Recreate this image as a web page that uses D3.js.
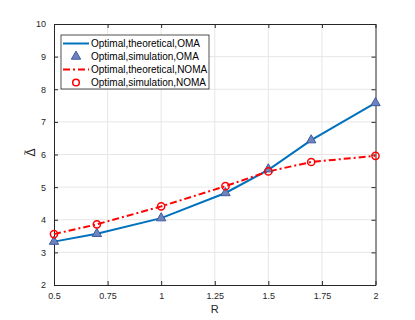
<!DOCTYPE html>
<html>
<head>
<meta charset="utf-8">
<script src="https://cdn.jsdelivr.net/npm/d3@7"></script>
<style>
  body { margin: 0; background: #fff; }
  svg { font-family: "Liberation Sans", Arial, sans-serif; }
</style>
</head>
<body>
<div id="chart"></div>
<script>
var rValues = [0.5, 0.7, 1, 1.3, 1.5, 1.7, 2];
var omaTheory = [3.33, 3.57, 4.05, 4.82, 5.53, 6.44, 7.58];
var omaSim = [3.33, 3.57, 4.05, 4.82, 5.55, 6.44, 7.58];
var nomaTheory = [3.56, 3.86, 4.41, 5.03, 5.48, 5.77, 5.96];
var nomaSim = [3.56, 3.86, 4.41, 5.03, 5.48, 5.77, 5.96];
var xTicks = [0.5, 0.75, 1, 1.25, 1.5, 1.75, 2];
var yTicks = [2, 3, 4, 5, 6, 7, 8, 9, 10];
var legendLabels = ["Optimal,theoretical,OMA", "Optimal,simulation,OMA",
    "Optimal,theoretical,NOMA", "Optimal,simulation,NOMA"];

var width = 415, height = 320;
var margin = {left: 54, right: 39.5, top: 24, bottom: 35};
var w = width - margin.left - margin.right;
var h = height - margin.top - margin.bottom;

var x = d3.scaleLinear().domain([0.5, 2]).range([0, w]);
var y = d3.scaleLinear().domain([2, 10]).range([h, 0]);

var svg = d3.select("#chart").append("svg")
    .attr("width", width)
    .attr("height", height)
    .append("g")
    .attr("transform", "translate(" + margin.left + "," + margin.top + ")");

// grid
svg.append("g").selectAll("line").data(xTicks.slice(1, -1)).enter().append("line")
    .attr("x1", function(d) { return x(d); }).attr("x2", function(d) { return x(d); })
    .attr("y1", 0).attr("y2", h)
    .attr("stroke", "#e6e6e6").attr("stroke-width", 1);
svg.append("g").selectAll("line").data(yTicks.slice(1, -1)).enter().append("line")
    .attr("y1", function(d) { return y(d); }).attr("y2", function(d) { return y(d); })
    .attr("x1", 0).attr("x2", w)
    .attr("stroke", "#e6e6e6").attr("stroke-width", 1);

function styleAxis(g) {
    g.select(".domain").attr("stroke", "#262626");
    g.selectAll(".tick line").attr("stroke", "#262626");
    g.selectAll(".tick text").attr("fill", "#262626").style("font-size", "9px");
}

svg.append("g")
    .attr("transform", "translate(0," + h + ")")
    .call(d3.axisBottom(x).tickValues(xTicks).tickSizeInner(-4).tickSizeOuter(0).tickPadding(8)
        .tickFormat(function(d) { return d3.format("")(d); }))
    .call(styleAxis);
svg.append("g")
    .call(d3.axisTop(x).tickValues(xTicks).tickSizeInner(-4).tickSizeOuter(0).tickFormat(""))
    .call(styleAxis);
svg.append("g")
    .call(d3.axisLeft(y).tickValues(yTicks).tickSizeInner(-4).tickSizeOuter(0).tickPadding(8))
    .call(styleAxis);
svg.append("g")
    .attr("transform", "translate(" + w + ",0)")
    .call(d3.axisRight(y).tickValues(yTicks).tickSizeInner(-4).tickSizeOuter(0).tickFormat(""))
    .call(styleAxis);

// axis labels
svg.append("text")
    .attr("x", w / 2).attr("y", h + 28)
    .attr("text-anchor", "middle")
    .attr("fill", "#262626")
    .style("font-size", "11px")
    .text("R");

var yLab = svg.append("g")
    .attr("transform", "translate(-19," + (h / 2 - 2) + ") rotate(-90)");
yLab.append("text")
    .attr("x", 0).attr("y", 0)
    .attr("text-anchor", "middle")
    .attr("fill", "#262626")
    .style("font-size", "12px")
    .text("\u0394");
yLab.append("text")
    .attr("x", 0).attr("y", -7)
    .attr("text-anchor", "middle")
    .attr("fill", "#262626")
    .style("font-size", "9px")
    .text("~");

var line = d3.line()
    .x(function(d, i) { return x(rValues[i]); })
    .y(function(d) { return y(d); });

svg.append("path")
    .datum(omaTheory)
    .attr("d", line)
    .attr("fill", "none")
    .attr("stroke", "#0072BD")
    .attr("stroke-width", 2);

svg.append("path")
    .datum(nomaTheory)
    .attr("d", line)
    .attr("fill", "none")
    .attr("stroke", "#ff0000")
    .attr("stroke-width", 2)
    .attr("stroke-dasharray", "7,3,2,3");

var tri = d3.symbol().type(d3.symbolTriangle).size(38);

svg.append("g").selectAll("path").data(omaSim).enter().append("path")
    .attr("d", tri)
    .attr("transform", function(d, i) { return "translate(" + x(rValues[i]) + "," + y(d) + ")"; })
    .attr("fill", "#6d83bd")
    .attr("stroke", "#3f5a9c")
    .attr("stroke-width", 1);

svg.append("g").selectAll("circle").data(nomaSim).enter().append("circle")
    .attr("cx", function(d, i) { return x(rValues[i]); })
    .attr("cy", function(d) { return y(d); })
    .attr("r", 3.6)
    .attr("fill", "none")
    .attr("stroke", "#ff0000")
    .attr("stroke-width", 1.5);

// legend
var lg = svg.append("g").attr("transform", "translate(7,11)");
lg.append("rect")
    .attr("x", 0).attr("y", 0).attr("width", 148).attr("height", 54)
    .attr("fill", "#fff").attr("stroke", "#262626").attr("stroke-width", 0.8);

var rows = lg.selectAll(".row").data(legendLabels).enter().append("g")
    .attr("transform", function(d, i) { return "translate(0," + (8.5 + i * 13) + ")"; });

rows.append("text")
    .attr("x", 30).attr("y", 0).attr("dy", "0.35em")
    .attr("fill", "#000")
    .style("font-size", "10px")
    .text(function(d) { return d; });

rows.filter(function(d, i) { return i === 0; }).append("line")
    .attr("x1", 2).attr("x2", 28).attr("y1", 0).attr("y2", 0)
    .attr("stroke", "#0072BD").attr("stroke-width", 2);
rows.filter(function(d, i) { return i === 1; }).append("path")
    .attr("d", tri).attr("transform", "translate(15,0)")
    .attr("fill", "#6d83bd").attr("stroke", "#3f5a9c");
rows.filter(function(d, i) { return i === 2; }).append("line")
    .attr("x1", 2).attr("x2", 28).attr("y1", 0).attr("y2", 0)
    .attr("stroke", "#ff0000").attr("stroke-width", 2).attr("stroke-dasharray", "7,3,2,3");
rows.filter(function(d, i) { return i === 3; }).append("circle")
    .attr("cx", 15).attr("cy", 0).attr("r", 3.3)
    .attr("fill", "none").attr("stroke", "#ff0000").attr("stroke-width", 1.5);
</script>
</body>
</html>
